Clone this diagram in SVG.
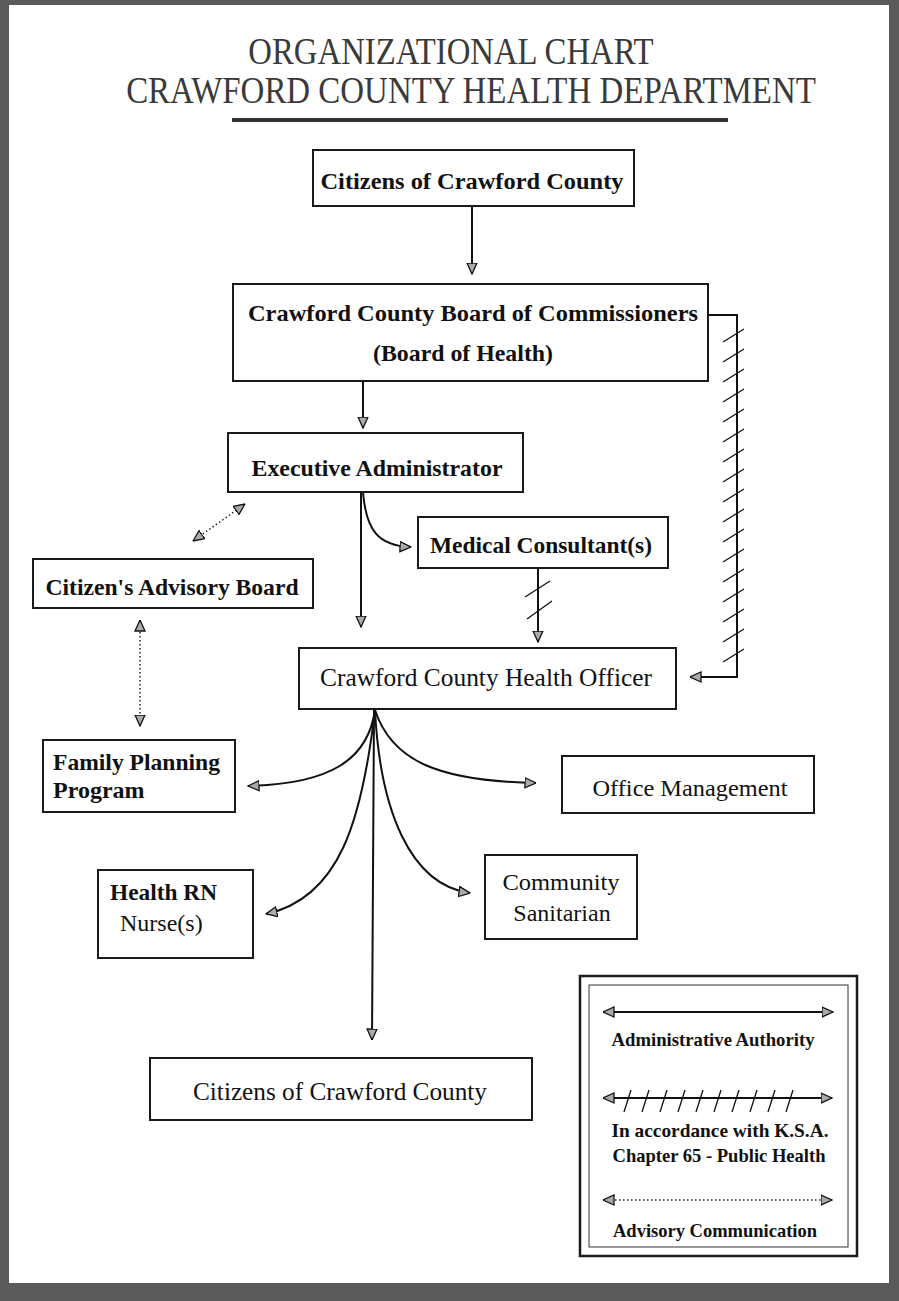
<svg xmlns="http://www.w3.org/2000/svg" width="899" height="1301" viewBox="0 0 899 1301">
<style>
.box{fill:#fff;stroke:#1a1a1a;stroke-width:2}
.t{font-family:"Liberation Serif","Times New Roman",serif;fill:#111}
.b{font-weight:bold}
.ttl{font-family:"Liberation Serif","Times New Roman",serif;font-size:38px;fill:#3a3a3a}
.ln{fill:none;stroke:#111;stroke-width:2}
.dot{fill:none;stroke:#222;stroke-width:1.5;stroke-dasharray:1.5 2.5}
.hatch{fill:none;stroke:#111;stroke-width:1.3}
</style>
<defs>
<marker id="ah" viewBox="0 0 12 12" refX="11.5" refY="6" markerWidth="12" markerHeight="12" markerUnits="userSpaceOnUse" orient="auto-start-reverse">
<path d="M0.5,1 L11.5,6 L0.5,11 Z" fill="#aaa" stroke="#111" stroke-width="1.3"/>
</marker>
</defs>
<rect width="899" height="1301" fill="#fff"/>
<g id="page-border" fill="#5a5a5a">
<rect x="0" y="0" width="899" height="5"/>
<rect x="0" y="0" width="9" height="1301"/>
<rect x="889" y="0" width="10" height="1301"/>
<rect x="0" y="1283" width="899" height="18"/>
</g>
<g id="title">
<text class="ttl" transform="translate(451,64) scale(0.862,1)" text-anchor="middle">ORGANIZATIONAL CHART</text>
<text class="ttl" transform="translate(471,103) scale(0.867,1)" text-anchor="middle">CRAWFORD COUNTY HEALTH DEPARTMENT</text>
<rect x="232" y="118" width="496" height="4" fill="#333"/>
</g>
<g id="connectors">
<path class="ln" d="M472,207 V274" marker-end="url(#ah)"/>
<path class="ln" d="M363,381 V428" marker-end="url(#ah)"/>
<path class="ln" d="M361,492 V627" marker-end="url(#ah)"/>
<path class="ln" d="M363,492 C366,530 378,546 411,547" marker-end="url(#ah)"/>
<path class="ln" d="M538,568 V642" marker-end="url(#ah)"/>
<path class="hatch" d="M525,597 L550,581 M527,619 L552,601"/>
<path class="ln" d="M708,315 H737 V677 H690" marker-end="url(#ah)"/>
<path class="hatch" d="M723,342 L744,329 M723,362 L744,349 M723,382 L744,369 M723,402 L744,389 M723,422 L744,409 M723,442 L744,429 M723,462 L744,449 M723,482 L744,469 M723,502 L744,489 M723,522 L744,509 M723,542 L744,529 M723,562 L744,549 M723,582 L744,569 M723,602 L744,589 M723,622 L744,609 M723,642 L744,629 M723,662 L744,649"/>
<path class="dot" d="M193,541 L245,504" marker-start="url(#ah)" marker-end="url(#ah)"/>
<path class="dot" d="M140,620 V726" marker-start="url(#ah)" marker-end="url(#ah)"/>
<path class="ln" d="M375,710 C368,760 330,784 248,786" marker-end="url(#ah)"/>
<path class="ln" d="M375,710 C362,820 340,898 266,914" marker-end="url(#ah)"/>
<path class="ln" d="M374,710 L372,1040" marker-end="url(#ah)"/>
<path class="ln" d="M375,710 C392,762 440,781 536,783" marker-end="url(#ah)"/>
<path class="ln" d="M375,710 C380,810 410,885 470,893" marker-end="url(#ah)"/>
</g>
<g id="citizens-top">
<rect class="box" x="313" y="150" width="321" height="56"/>
<text class="t b" x="472" y="189" font-size="24" text-anchor="middle" textLength="303" lengthAdjust="spacingAndGlyphs">Citizens of Crawford County</text>
</g>
<g id="board">
<rect class="box" x="233" y="284" width="475" height="97"/>
<text class="t b" x="473" y="321" font-size="24" text-anchor="middle" textLength="450" lengthAdjust="spacingAndGlyphs">Crawford County Board of Commissioners</text>
<text class="t b" x="463" y="361" font-size="24" text-anchor="middle" textLength="180" lengthAdjust="spacingAndGlyphs">(Board of Health)</text>
</g>
<g id="exec-admin">
<rect class="box" x="228" y="433" width="295" height="59"/>
<text class="t b" x="377" y="476" font-size="24" text-anchor="middle" textLength="251" lengthAdjust="spacingAndGlyphs">Executive Administrator</text>
</g>
<g id="medical">
<rect class="box" x="418" y="517" width="250" height="51"/>
<text class="t b" x="541" y="553" font-size="24" text-anchor="middle" textLength="222" lengthAdjust="spacingAndGlyphs">Medical Consultant(s)</text>
</g>
<g id="advisory-board">
<rect class="box" x="33" y="559" width="280" height="49"/>
<text class="t b" x="172" y="595" font-size="24" text-anchor="middle" textLength="253" lengthAdjust="spacingAndGlyphs">Citizen's Advisory Board</text>
</g>
<g id="health-officer">
<rect class="box" x="299" y="648" width="377" height="61"/>
<text class="t" x="486" y="686" font-size="25" text-anchor="middle" textLength="332" lengthAdjust="spacingAndGlyphs">Crawford County Health Officer</text>
</g>
<g id="family-planning">
<rect class="box" x="43" y="740" width="192" height="72"/>
<text class="t b" x="53" y="770" font-size="24" textLength="167" lengthAdjust="spacingAndGlyphs">Family Planning</text>
<text class="t b" x="53" y="798" font-size="24">Program</text>
</g>
<g id="office-management">
<rect class="box" x="562" y="756" width="252" height="57"/>
<text class="t" x="690" y="796" font-size="24" text-anchor="middle" textLength="195" lengthAdjust="spacingAndGlyphs">Office Management</text>
</g>
<g id="nurses">
<rect class="box" x="98" y="870" width="155" height="88"/>
<text class="t b" x="110" y="900" font-size="24" textLength="107" lengthAdjust="spacingAndGlyphs">Health RN</text>
<text class="t" x="120" y="931" font-size="24">Nurse(s)</text>
</g>
<g id="sanitarian">
<rect class="box" x="485" y="855" width="152" height="84"/>
<text class="t" x="561" y="890" font-size="24" text-anchor="middle" textLength="117" lengthAdjust="spacingAndGlyphs">Community</text>
<text class="t" x="562" y="921" font-size="24" text-anchor="middle">Sanitarian</text>
</g>
<g id="citizens-bottom">
<rect class="box" x="150" y="1058" width="382" height="62"/>
<text class="t" x="340" y="1100" font-size="25" text-anchor="middle" textLength="294" lengthAdjust="spacingAndGlyphs">Citizens of Crawford County</text>
</g>
<g id="legend">
<rect x="580" y="976" width="277" height="280" fill="#fff" stroke="#1a1a1a" stroke-width="2.5"/>
<rect x="589" y="985" width="259" height="262" fill="none" stroke="#333" stroke-width="1"/>
<path class="ln" d="M603,1012 H833" marker-start="url(#ah)" marker-end="url(#ah)"/>
<text class="t b" x="713" y="1046" font-size="19" text-anchor="middle" textLength="203" lengthAdjust="spacingAndGlyphs">Administrative Authority</text>
<path class="ln" d="M603,1098 H832" marker-start="url(#ah)" marker-end="url(#ah)"/>
<path class="hatch" d="M631,1090 L624,1112 M649,1090 L642,1112 M667,1090 L660,1112 M685,1090 L678,1112 M703,1090 L696,1112 M721,1090 L714,1112 M739,1090 L732,1112 M757,1090 L750,1112 M775,1090 L768,1112 M793,1090 L786,1112"/>
<text class="t b" x="720" y="1137" font-size="19" text-anchor="middle" textLength="217" lengthAdjust="spacingAndGlyphs">In accordance with K.S.A.</text>
<text class="t b" x="719" y="1162" font-size="19" text-anchor="middle" textLength="213" lengthAdjust="spacingAndGlyphs">Chapter 65 - Public Health</text>
<path class="dot" d="M603,1200 H832" marker-start="url(#ah)" marker-end="url(#ah)"/>
<text class="t b" x="715" y="1237" font-size="19" text-anchor="middle" textLength="204" lengthAdjust="spacingAndGlyphs">Advisory Communication</text>
</g>
</svg>
